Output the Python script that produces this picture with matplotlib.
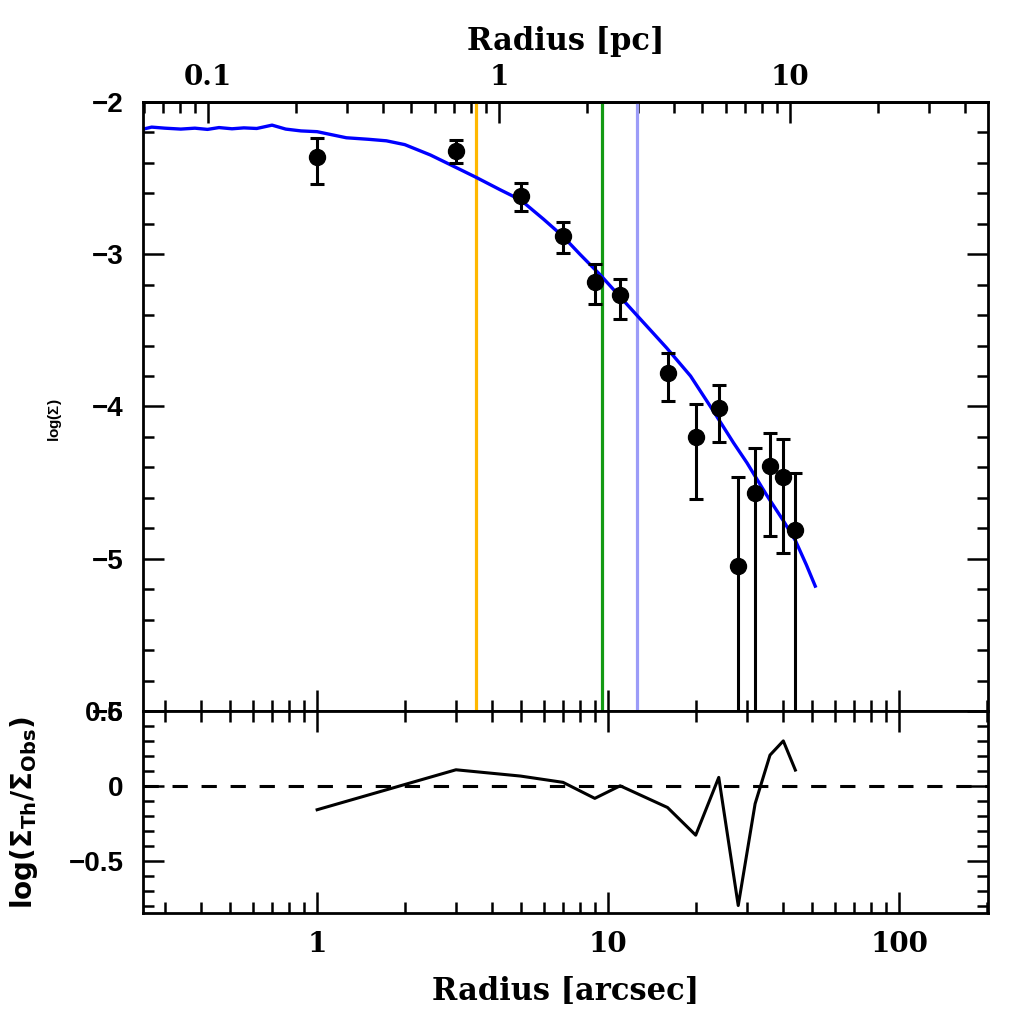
import numpy as np
import matplotlib
matplotlib.use("Agg")
import matplotlib.pyplot as plt
from matplotlib import ticker

plt.rcParams['mathtext.default'] = 'regular'

# observed profile (arcsec, log Sigma) with error bar ends
r_obs = [1, 3, 5, 7, 9, 11, 16, 20, 24, 28, 32, 36, 40, 44]
logS_obs = [-2.36, -2.32, -2.62, -2.88, -3.18, -3.27, -3.78, -4.20, -4.01,
            -5.05, -4.57, -4.39, -4.46, -4.81]
err_hi = [-2.238, -2.249, -2.533, -2.787, -3.064, -3.163, -3.652, -3.987,
          -3.856, -4.463, -4.275, -4.173, -4.216, -4.439]
err_lo = [-2.538, -2.402, -2.719, -2.992, -3.325, -3.425, -3.965, -4.605,
          -4.232, -7.0, -7.0, -4.851, -4.960, -7.0]

# model profile
r_mod = [0.25, 0.27, 0.30, 0.34, 0.38, 0.42, 0.46, 0.51, 0.56, 0.62, 0.70,
         0.78, 0.88, 1.0, 1.26, 1.5, 1.73, 2.0, 2.45, 3.0, 3.51, 4.26, 5.0,
         6.0, 7.0, 8.0, 9.38, 11.0, 12.5, 14.0, 15.9, 19.2, 23.0, 27.0, 30.0,
         35.0, 40.0, 44.0, 48.0, 51.5]
logS_mod = [-2.18, -2.165, -2.172, -2.178, -2.172, -2.18, -2.168, -2.176,
            -2.17, -2.174, -2.152, -2.178, -2.19, -2.195, -2.235, -2.245,
            -2.255, -2.28, -2.348, -2.43, -2.494, -2.577, -2.643, -2.77,
            -2.883, -3.00, -3.134, -3.28, -3.397, -3.50, -3.616, -3.80,
            -4.03, -4.24, -4.37, -4.58, -4.75, -4.88, -5.04, -5.18]

# residuals log(Sigma_Th / Sigma_Obs)
resid = [-0.16, 0.107, 0.065, 0.023, -0.084, 0.0, -0.145, -0.33, 0.056,
         -0.80, -0.12, 0.205, 0.30, 0.105]

# characteristic radii (arcsec)
r_lines = [3.52, 9.52, 12.6]
line_colors = ['#FFB800', '#139A13', '#9C9CF8']

pc_per_arcsec = 0.237
pc_ticks = [0.1, 1, 10]

ytick_font = dict(family='Liberation Sans', weight='bold', size=20)
xtick_font = dict(family='DejaVu Serif', weight='bold', size=20)
label_font = dict(family='DejaVu Serif', weight='bold', size=22)

fig = plt.figure(figsize=(10.24, 10.24), dpi=100)
ax1 = fig.add_axes([0.1396, 0.3057, 0.8252, 0.5947])
ax2 = fig.add_axes([0.1396, 0.1084, 0.8252, 0.1973], sharex=ax1)

for r, c in zip(r_lines, line_colors):
    ax1.axvline(r, color=c, lw=2.3, zorder=1)
ax1.plot(r_mod, logS_mod, color='#0000FF', lw=2.4, zorder=2)
yerr = [np.array(logS_obs) - np.array(err_lo), np.array(err_hi) - np.array(logS_obs)]
ax1.errorbar(r_obs, logS_obs, yerr=yerr, fmt='o', color='black', ms=11.5,
             elinewidth=2.2, capsize=5, capthick=2.2, zorder=3)

ax2.axhline(0, color='black', lw=2.2, ls=(0, (5, 4.5)))
ax2.plot(r_obs, resid, color='black', lw=2.2)

ax1.set_xscale('log')
ax1.set_xlim(0.252, 202)
ax1.set_ylim(-6, -2)
ax2.set_ylim(-0.85, 0.5)

fmt = ticker.FuncFormatter(lambda v, _: f'{v:g}')
for ax in (ax1, ax2):
    ax.xaxis.set_major_locator(ticker.LogLocator(base=10, numticks=10))
    ax.xaxis.set_minor_locator(ticker.LogLocator(base=10, subs=np.arange(2, 10), numticks=20))
    ax.xaxis.set_minor_formatter(ticker.NullFormatter())
    ax.tick_params(which='both', direction='in', top=True, right=True, width=1.8)
    ax.tick_params(which='major', length=15)
    ax.tick_params(which='minor', length=8)
    for s in ax.spines.values():
        s.set_linewidth(2.0)

ax1.yaxis.set_major_locator(ticker.MultipleLocator(1))
ax1.yaxis.set_minor_locator(ticker.MultipleLocator(0.2))
ax2.yaxis.set_major_locator(ticker.MultipleLocator(0.5))
ax2.yaxis.set_minor_locator(ticker.MultipleLocator(0.1))
ax2.yaxis.set_major_formatter(ticker.FuncFormatter(lambda v, _: f'{v:g}'.replace('-', '\u2212')))

ax1.tick_params(axis='x', labelbottom=False)
ax2.xaxis.set_major_formatter(fmt)
ax1.tick_params(axis='y', pad=14)
ax2.tick_params(axis='y', pad=14)
ax2.tick_params(axis='x', pad=13)
for lab in ax1.get_yticklabels() + ax2.get_yticklabels():
    lab.set(**ytick_font)
for lab in ax2.get_xticklabels():
    lab.set(**xtick_font)

# top axis in parsec
sec = ax1.secondary_xaxis('top', functions=(lambda x: x * pc_per_arcsec,
                                            lambda x: x / pc_per_arcsec))
sec.xaxis.set_major_locator(ticker.FixedLocator(pc_ticks))
sec.xaxis.set_major_formatter(fmt)
sec.xaxis.set_minor_formatter(ticker.NullFormatter())
sec.tick_params(which='both', direction='in', width=1.8, pad=8)
sec.tick_params(which='major', length=15)
sec.tick_params(which='minor', length=8)
sec.spines['top'].set_linewidth(2.0)
for lab in sec.get_xticklabels():
    lab.set(**xtick_font)
sec.set_xlabel('Radius [pc]', **label_font, labelpad=10)
ax1.tick_params(axis='x', which='both', top=False)

ax2.set_xlabel('Radius [arcsec]', **label_font)
ax2.xaxis.set_label_coords(0.5, -0.312)
ax1.set_ylabel(r'log($\Sigma$)', family='Liberation Sans', weight='bold', size=11)
ax1.yaxis.set_label_coords(-0.0935, 0.478)
ax2.set_ylabel(r'log($\Sigma_{Th}$/$\Sigma_{Obs}$)', family='DejaVu Sans',
               weight='bold', size=20)
ax2.yaxis.set_label_coords(-0.122, 0.495)

fig.savefig('out.png', dpi=100)
